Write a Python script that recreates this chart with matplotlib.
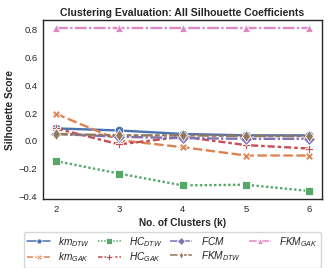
import matplotlib
matplotlib.use('Agg')
import matplotlib.pyplot as plt
import seaborn as sns

sns.set_theme(style='white', palette='deep')
plt.rcParams['font.family'] = ['Liberation Sans', 'DejaVu Sans']
plt.rcParams['mathtext.fontset'] = 'custom'
plt.rcParams['mathtext.it'] = 'Liberation Sans:italic'
plt.rcParams['mathtext.rm'] = 'Liberation Sans'

# cluster counts on the x axis
k_values = [2, 3, 4, 5, 6]

# silhouette scores
km_dtw = [0.09, 0.075, 0.05, 0.04, 0.04]
km_gak = [0.195, 0.005, -0.045, -0.105, -0.105]
hc_dtw = [-0.145, -0.235, -0.32, -0.315, -0.36]
hc_gak = [0.09, -0.025, 0.03, -0.03, -0.055]
fcm = [0.05, 0.03, 0.02, 0.015, 0.015]
fkm_dtw = [0.05, 0.04, 0.04, 0.035, 0.035]
fkm_gak = [0.81, 0.81, 0.81, 0.81, 0.81]

labels = [r'$km_{DTW}$', r'$km_{GAK}$', r'$HC_{DTW}$', r'$HC_{GAK}$',
          r'$FCM$', r'$FKM_{DTW}$', r'$FKM_{GAK}$']
series = [km_dtw, km_gak, hc_dtw, hc_gak, fcm, fkm_dtw, fkm_gak]
markers = ['o', 'X', 's', 'P', 'D', 'd', '^']
dashes = [(None, None), (4, 1.5), (1, 1), (3, 1.25, 1.5, 1.25),
          (5, 1, 1, 1), (5, 1, 2, 1, 2, 1), (5, 1, 1, 1)]
colors = sns.color_palette('deep')[:7]

fig = plt.figure(figsize=(3.32, 2.68), dpi=100)
ax = fig.add_axes([0.13, 0.257, 0.84, 0.668])

for ys, lab, m, d, c in zip(series, labels, markers, dashes, colors):
    line, = ax.plot(k_values, ys, marker=m, color=c, label=lab, linewidth=1.7,
                    markersize=6.2, markeredgecolor='white', markeredgewidth=0.6)
    if d[0] is not None:
        line.set_dashes(d)

ax.set_title('Clustering Evaluation: All Silhouette Coefficients',
             fontsize=7.6, fontweight='bold', pad=3)
ax.set_xlabel('No. of Clusters (k)', fontsize=7.3, fontweight='bold', labelpad=3)
ax.set_ylabel('Silhouette Score', fontsize=7.3, fontweight='bold', labelpad=3)
ax.set_xticks(k_values)
ax.set_yticks([-0.4, -0.2, 0.0, 0.2, 0.4, 0.6, 0.8])
ax.tick_params(labelsize=6.8, length=0, pad=4)
for s in ax.spines.values():
    s.set_color('#262626')
    s.set_linewidth(1.0)

leg = fig.legend(loc='upper center', bbox_to_anchor=(0.52, 0.135), ncol=4,
                 fontsize=7.3, markerscale=0.6, handlelength=2.2, columnspacing=0.8,
                 handletextpad=0.8, labelspacing=0.2, borderpad=0.3,
                 borderaxespad=0, frameon=True)
for h in leg.legend_handles:
    h.set_linewidth(1.1)

plt.savefig('out.png', dpi=100)
plt.close()
